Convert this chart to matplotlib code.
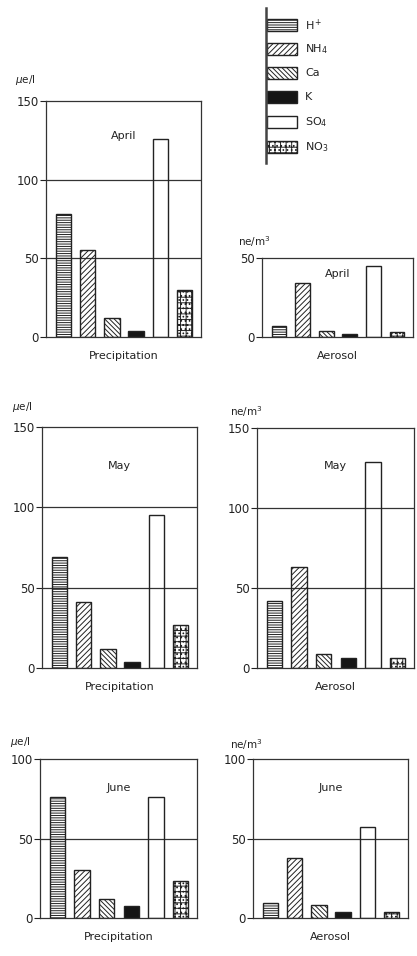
import numpy as np
import matplotlib
matplotlib.use('Agg')
import matplotlib.pyplot as plt
from matplotlib.patches import Rectangle

plt.rcParams['font.family'] = ['DejaVu Sans']
plt.rcParams['hatch.linewidth'] = 0.7
plt.rcParams['hatch.color'] = '#222222'

# ions and monthly concentrations
ions = ['H$^+$', 'NH$_4$', 'Ca', 'K', 'SO$_4$', 'NO$_3$']
months = ['April', 'May', 'June']

precip_april = [78, 55, 12, 4, 126, 30]
precip_may = [69, 41, 12, 4, 95, 27]
precip_june = [76, 30, 12, 7.5, 76, 23]

aerosol_april = [7, 34, 4, 2, 45, 3]
aerosol_may = [42, 63, 8.5, 6, 129, 6]
aerosol_june = [9.5, 38, 8, 3.5, 57.5, 4]

precip_ymax = [150, 150, 100]
aerosol_ymax = [50, 150, 100]

# bar styles per ion
hatches = ['-------', '//////', '\\\\\\\\\\\\\\', '', '', '+++....']
faces = ['none', 'none', 'none', '#151515', 'none', 'none']

ink = '#222222'

fig = plt.figure(figsize=(4.17, 9.56), dpi=100)

# axes boxes in pixels: (left, top, right, bottom)
W, H = 417, 956
boxes = {
    ('P', 0): (46, 101, 201, 337),
    ('A', 0): (262, 258, 413, 337),
    ('P', 1): (42, 427, 197, 668),
    ('A', 1): (257, 428, 414, 668),
    ('P', 2): (40, 759, 197, 918),
    ('A', 2): (253, 759, 408, 918),
}
unit_off = {
    ('P', 0): (-31, 21), ('A', 0): (-24, 16),
    ('P', 1): (-30, 20), ('A', 1): (-27, 16),
    ('P', 2): (-30, 17), ('A', 2): (-23, 14),
}
month_y = {('P', 0): 0.85, ('A', 0): 0.80, ('P', 1): 0.84,
           ('A', 1): 0.84, ('P', 2): 0.82, ('A', 2): 0.82}

precip = [precip_april, precip_may, precip_june]
aerosol = [aerosol_april, aerosol_may, aerosol_june]


def panel(kind, i, values, ymax, xlabel, unit):
    l, t, r, b = boxes[(kind, i)]
    ax = fig.add_axes([l / W, 1 - b / H, (r - l) / W, (b - t) / H])
    x = np.arange(len(values))
    for yv in range(50, ymax, 50):
        ax.axhline(yv, color='#333333', lw=0.9, zorder=0.5)
    for j in range(len(values)):
        ax.bar(x[j], values[j], width=0.63, facecolor=faces[j],
               edgecolor=ink, linewidth=1.0, hatch=hatches[j], zorder=2)
    ax.set_xlim(-0.72, 5.68)
    ax.set_ylim(0, ymax)
    ax.set_yticks(range(0, ymax + 1, 50))
    ax.set_xticks([])
    ax.tick_params(axis='y', direction='out', length=4, width=0.8,
                   labelsize=8.5, colors=ink, pad=1)
    for s in ax.spines.values():
        s.set_color('#333333')
        s.set_linewidth(0.9)
    ax.text(0.5, month_y[(kind, i)], months[i], transform=ax.transAxes,
            ha='center', va='center', fontsize=8, color=ink)
    ax.set_xlabel(xlabel, fontsize=8, color=ink, labelpad=10)
    dx, dy = unit_off[(kind, i)]
    ax.annotate(unit, xy=(0, 1), xycoords='axes fraction', xytext=(dx, dy),
                textcoords='offset pixels', ha='left', va='center',
                fontsize=7.5, color=ink)
    return ax


for i in range(3):
    panel('P', i, precip[i], precip_ymax[i], 'Precipitation', r'$\mu$e/l')
    panel('A', i, aerosol[i], aerosol_ymax[i], 'Aerosol', 'ne/m$^3$')

# hand-drawn style legend with a vertical bar
lax = fig.add_axes([0, 0, 1, 1])
lax.set_xlim(0, W)
lax.set_ylim(H, 0)
lax.axis('off')
lax.plot([266, 266], [8, 163], color='#444444', lw=1.8)
row_y = [25, 49, 73, 97, 122, 147]
for j, name in enumerate(ions):
    lax.add_patch(Rectangle((267, row_y[j] - 6), 30, 12, facecolor=faces[j],
                            edgecolor=ink, linewidth=1.0, hatch=hatches[j]))
    lax.text(305, row_y[j], name, ha='left', va='center', fontsize=8,
             color=ink)

plt.savefig('out.png', dpi=100)
